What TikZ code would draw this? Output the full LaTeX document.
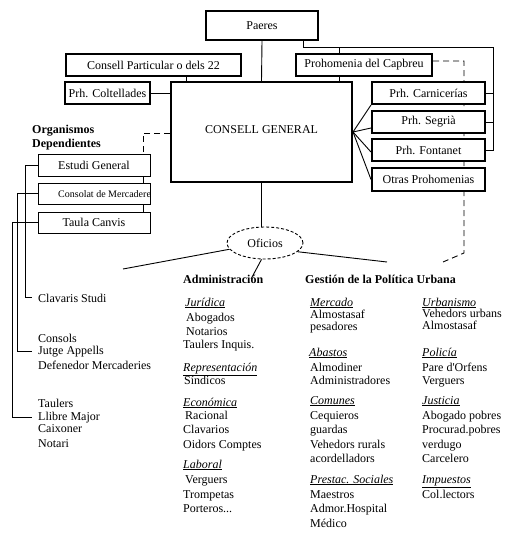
\documentclass[tikz,border=0pt]{standalone}
\usepackage{fontspec}
\setmainfont{Liberation Serif}
\usetikzlibrary{calc,shapes.geometric}
\pgfdeclarelayer{bg}
\pgfsetlayers{bg,main}
\begin{document}
\begin{tikzpicture}[x=1pt,y=-1pt,
  f/.style={font=\fontsize{12}{14}\selectfont},
  box/.style={draw, fill=white, line width=2pt, inner sep=0pt, f},
  tbox/.style={draw, fill=white, line width=1pt, inner sep=0pt, f, minimum width=112pt},
  txt/.style={anchor=base west, inner sep=0pt, f},
  hd/.style={anchor=base west, inner sep=0pt, font=\fontsize{12}{14}\selectfont\bfseries},
  conn/.style={line width=0.9pt},
  dsh/.style={line width=0.9pt, dash pattern=on 6pt off 4pt}]
\useasboundingbox (0,0) rectangle (520,535);

% boxes
\node[box, minimum width=112pt, minimum height=29pt] (paeres) at (262,25.5) {Paeres};
\node[box, minimum width=175pt, minimum height=22pt] (cpart) at (153.5,65) {Consell Particular o dels 22};
\node[box, minimum width=136pt, minimum height=22pt] (capb) at (364,65) {Prohomenia del Capbreu};
\node[box, minimum width=85pt, minimum height=22pt] (colt) at (107.5,93) {Prh. Coltellades};
\node[box, minimum width=181pt, minimum height=100pt] (cg) at (261.5,132) {\raisebox{4pt}{CONSELL GENERAL}};
\node[box, minimum width=113pt, minimum height=22pt] (carn) at (428.5,93) {Prh. Carnicerías};
\node[box, minimum width=113pt, minimum height=22pt] (segr) at (428.5,122) {Prh. Segrià};
\node[box, minimum width=113pt, minimum height=22pt] (font) at (428.5,150) {Prh. Fontanet};
\node[box, minimum width=113pt, minimum height=23pt] (otras) at (428.5,179.5) {Otras Prohomenias};

\node[hd] (org1) at (32,133) {Organismos};
\node[hd] (org2) at (32,147) {Dependientes};
\node[tbox, minimum height=22pt] (estudi) at (94,165) {Estudi General};
\node[tbox, minimum height=21pt] (consolat) at (94,193.5) {};
\begin{scope}
\clip ($(consolat.south west)+(0.5,-0.5)$) rectangle ($(consolat.north east)+(-0.5,0.5)$);
\node[anchor=base west, inner sep=0pt, font=\fontsize{10}{12}\selectfont] (consolatt) at (58,197) {Consolat de Mercaderes};
\end{scope}
\node[tbox, minimum height=21pt] (taula) at (94,222.5) {Taula Canvis};

\node[draw, ellipse, fill=white, line width=0.9pt, dash pattern=on 3pt off 2pt,
      minimum width=76pt, minimum height=32pt, inner sep=0pt, f] (ofi) at (265,243) {Oficios};

% left lists
\node[txt] (clav) at (38,302) {Clavaris Studi};
\node[txt] (consols) at (38,342) {Consols};
\node[txt] (jutge) at (38,354) {Jutge Appells};
\node[txt] (defen) at (38,369) {Defenedor Mercaderies};
\node[txt] (taulers) at (38,407) {Taulers};
\node[txt] (llibre) at (38,420) {Llibre Major};
\node[txt] (caix) at (38,432) {Caixoner};
\node[txt] (notari) at (38,447) {Notari};

% headings
\node[hd] (adm) at (183,283) {Administración};
\node[hd] (gest) at (305,283) {Gestión de la Política Urbana};

% column 1
\node[txt] (c1a) at (185,306) {\underline{\textit{Jurídica}}};
\node[txt] (c1b) at (186,321) {Abogados};
\node[txt] (c1c) at (186,335) {Notarios};
\node[txt] (c1d) at (183,348) {Taulers Inquis.};
\node[txt] (c1e) at (183,371) {\underline{\textit{Representación}}};
\node[txt] (c1f) at (184,384) {Síndicos};
\node[txt] (c1g) at (183,406) {\underline{\textit{Económica}}};
\node[txt] (c1h) at (185,419) {Racional};
\node[txt] (c1i) at (183,433) {Clavarios};
\node[txt] (c1j) at (183,448) {Oidors Comptes};
\node[txt] (c1k) at (183,468) {\underline{\textit{Laboral}}};
\node[txt] (c1l) at (185,483) {Verguers};
\node[txt] (c1m) at (183,498) {Trompetas};
\node[txt] (c1n) at (183,512) {Porteros...};

% column 2
\node[txt] (c2a) at (310,306) {\underline{\textit{Mercado}}};
\node[txt] (c2b) at (310,318) {Almostasaf};
\node[txt] (c2c) at (310,330) {pesadores};
\node[txt] (c2d) at (309,356) {\underline{\textit{Abastos}}};
\node[txt] (c2e) at (310,371) {Almodiner};
\node[txt] (c2f) at (310,384) {Administradores};
\node[txt] (c2g) at (310,404) {\underline{\textit{Comunes}}};
\node[txt] (c2h) at (310,419) {Cequieros};
\node[txt] (c2i) at (310,433) {guardas};
\node[txt] (c2j) at (310,448) {Vehedors rurals};
\node[txt] (c2k) at (310,462) {acordelladors};
\node[txt] (c2l) at (310,483) {\underline{\textit{Prestac. Sociales}}};
\node[txt] (c2m) at (310,498) {Maestros};
\node[txt] (c2n) at (310,512) {Admor.Hospital};
\node[txt] (c2o) at (310,527) {Médico};

% column 3
\node[txt] (c3a) at (422,306) {\underline{\textit{Urbanismo}}};
\node[txt] (c3b) at (422,317) {Vehedors urbans};
\node[txt] (c3c) at (422,329) {Almostasaf};
\node[txt] (c3d) at (422,356) {\underline{\textit{Policía}}};
\node[txt] (c3e) at (422,371) {Pare d\textquotesingle Orfens};
\node[txt] (c3f) at (422,384) {Verguers};
\node[txt] (c3g) at (422,404) {\underline{\textit{Justicia}}};
\node[txt] (c3h) at (422,419) {Abogado pobres};
\node[txt] (c3i) at (422,433) {Procurad.pobres};
\node[txt] (c3j) at (422,448) {verdugo};
\node[txt] (c3k) at (422,462) {Carcelero};
\node[txt] (c3l) at (422,483) {\underline{\textit{Impuestos}}};
\node[txt] (c3m) at (422,498) {Col.lectors};

% connectors
\coordinate (rb) at (493,47);
\coordinate (qx) at (303,0);
\coordinate (cx) at (339,0);
\coordinate (px) at (186,0);
\coordinate (lx) at (143,133);
\coordinate (dc) at (464,253);
\coordinate (dend) at (443,262);
\coordinate (la) at (123,269);
\coordinate (ra) at (387,262);
\coordinate (da) at (251,279);
\begin{pgfonlayer}{bg}
\fill[white] (0,0) rectangle (520,535);
\draw[conn] (paeres.south) -- (cg.north);
\draw[conn] (paeres.south -| qx) |- (rb) |- (font.east);
\draw[conn] (carn.east) -- (carn.east -| rb);
\draw[conn] (segr.east) -- (segr.east -| rb);
\draw[conn] (capb.north -| cx) -- (rb -| cx);
\draw[conn] (capb.south -| cx) -- (cg.north -| cx);
\draw[conn] (cpart.south -| px) -- (cg.north -| px);
\draw[conn] (colt.east) -- (colt.east -| cg.west);
\draw[conn] (cg.east) -- (carn.south west);
\draw[conn] (cg.east) -- ($(segr.west)!0.5!(segr.south west)$);
\draw[conn] (cg.east) -- ($(font.west)+(0,2)$);
\draw[conn] (cg.east) -- (otras.west);
\draw[dsh] ($(capb.east)+(0,-4)$) -| (dc) -- (dend);
\draw[dsh] (cg.west |- lx) -- (lx) -- (lx |- estudi.north);
\draw[conn] (estudi.south -| lx) -- (consolat.north -| lx);
\draw[conn] (consolat.south -| lx) -- (taula.north -| lx);
\draw[conn] (estudi.west) -| ($(clav.west)+(-13,0)$) -- ($(clav.west)+(-6,0)$);
\draw[conn] (consolat.west) -| ($(jutge.west)+(-21,0)$) -- ($(jutge.west)+(-6,0)$);
\draw[conn] (taula.west) -| ($(llibre.west)+(-26,0)$) -- ($(llibre.west)+(-6,0)$);
\draw[conn] (cg.south) -- (cg.south |- ofi.north);
\draw[conn] (ofi.190) -- (la);
\draw[conn] (ofi.345) -- (ra);
\draw[conn] (ofi.258) -- (da);
\end{pgfonlayer}
\end{tikzpicture}
\end{document}
